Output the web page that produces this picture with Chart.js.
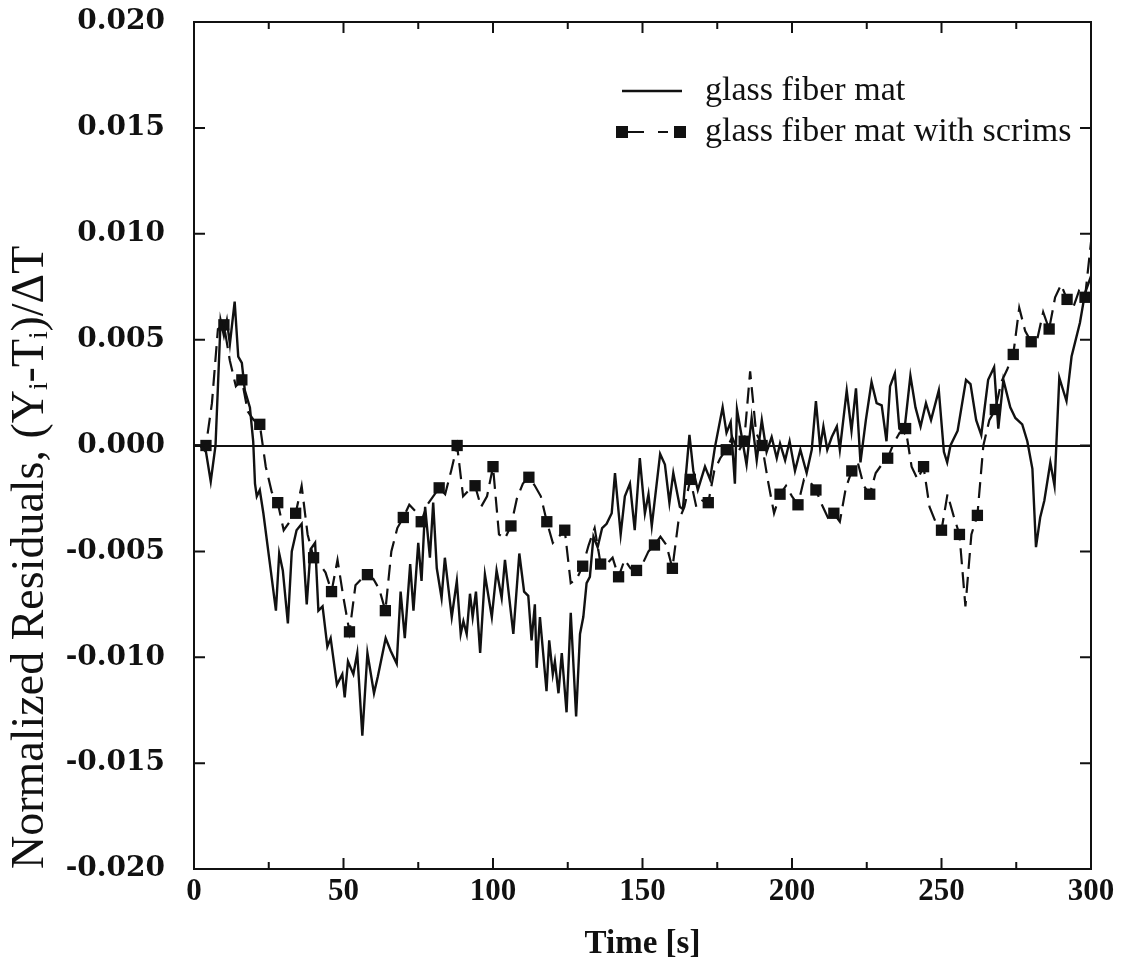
<!DOCTYPE html>
<html lang="en">
<head>
    <meta charset="UTF-8">
    <title>Normalized Residuals</title>
    <script src="https://cdn.jsdelivr.net/npm/chart.js"></script>
    <style>
        body { margin: 0; background: #fff; }
    </style>
</head>
<body>
    <canvas id="residualsChart" width="1127" height="966"></canvas>

    <script>
// glass fiber mat (solid line), time [s] and residual
const solidTime = [0, 2, 4, 5.6, 7.2, 8.9, 10, 11, 12, 13.6, 14.8, 16, 17, 18.7, 19.8, 20.4, 21, 22, 23.2, 25.4,
    27.4, 28.5, 29.7, 31.4, 32.7, 34.3, 36, 37.7, 39, 40.5, 41.6, 43, 44.6, 45.7, 47.8, 49.6, 50.4, 51.5, 53.3, 54.6,
    56.3, 58, 60.2, 61.5, 64.1, 65.8, 67.8, 69.1, 70.5, 72.3, 73.4, 75, 76.1, 77.3, 78.9, 80, 81.2, 82.8, 83.9, 86.2,
    87.9, 89.2, 90.1, 91.2, 92.3, 93.2, 94.3, 95.7, 97.3, 99.6, 101.2, 102.9, 104, 106.8, 108.8, 110.4, 111.8, 112.9, 114, 114.6,
    115.7, 117.9, 118.8, 120, 120.7, 121.9, 123, 124.6, 126, 127.8, 129.1, 130.2, 131.3, 132.4, 133.6, 135, 136.5, 138, 139.7, 140.8,
    142.7, 144.1, 145.8, 147.4, 149.1, 150.8, 152, 153.1, 155.9, 157.5, 159, 160.3, 162.5, 163.5, 165.7, 167, 168.5, 170.9, 172.6, 174.2,
    176.8, 178.1, 179.5, 180.9, 181.6, 182.6, 184.8, 186.5, 188.2, 189.9, 191.5, 193.2, 194.9, 196, 197.7, 199.2, 201, 202.8, 204.9, 206.6,
    208, 209.4, 210.5, 211.8, 213.3, 215, 216, 218.3, 219.9, 221.4, 222.9, 224.7, 226.6, 228.3, 230, 231.6, 232.8, 234.4, 235.9, 237.5,
    239.6, 241.3, 243, 244.8, 246.5, 249.1, 250.8, 251.9, 253, 255.4, 258.2, 259.7, 261.6, 263.3, 265.6, 267.6, 269, 270.7, 273, 274.7,
    277, 278.7, 280.4, 281.6, 283, 284.4, 286.4, 287.8, 289.4, 291.8, 293.5, 296.3, 298, 300];
const solidVal = [0.0000, 0.0000, -0.0003, -0.0017, 0.0000, 0.0059, 0.0052, 0.0059, 0.0048, 0.0068, 0.0042, 0.0039, 0.0026, 0.0018, 0.0002, -0.0018, -0.0024, -0.0021, -0.0032, -0.0056,
    -0.0078, -0.0051, -0.0059, -0.0084, -0.0050, -0.0040, -0.0037, -0.0075, -0.0049, -0.0046, -0.0078, -0.0076, -0.0095, -0.0091, -0.0113, -0.0108, -0.0119, -0.0102, -0.0108, -0.0098,
    -0.0137, -0.0098, -0.0117, -0.0109, -0.0091, -0.0097, -0.0103, -0.0069, -0.0091, -0.0056, -0.0078, -0.0046, -0.0064, -0.0029, -0.0053, -0.0027, -0.0058, -0.0072, -0.0053, -0.0081,
    -0.0064, -0.0089, -0.0083, -0.0089, -0.0070, -0.0081, -0.0069, -0.0098, -0.0061, -0.0081, -0.0059, -0.0072, -0.0054, -0.0089, -0.0051, -0.0069, -0.0071, -0.0092, -0.0075, -0.0105,
    -0.0081, -0.0116, -0.0092, -0.0108, -0.0102, -0.0117, -0.0098, -0.0126, -0.0079, -0.0128, -0.0089, -0.0081, -0.0065, -0.0062, -0.0043, -0.0048, -0.0039, -0.0037, -0.0032, -0.0013,
    -0.0042, -0.0024, -0.0018, -0.0040, -0.0006, -0.0032, -0.0023, -0.0038, -0.0004, -0.0009, -0.0027, -0.0013, -0.0029, -0.0030, 0.0005, -0.0012, -0.0021, -0.0010, -0.0016, -0.0001,
    0.0018, 0.0006, 0.0011, -0.0018, 0.0017, 0.0009, -0.0009, 0.0013, -0.0007, 0.0012, -0.0003, 0.0004, -0.0006, 0.0001, -0.0007, 0.0002, -0.0012, -0.0002, -0.0013, -0.0002,
    0.0021, -0.0001, 0.0009, -0.0002, 0.0004, 0.0009, -0.0002, 0.0026, 0.0007, 0.0027, -0.0008, 0.0012, 0.0030, 0.0020, 0.0019, 0.0002, 0.0028, 0.0034, 0.0008, 0.0006,
    0.0033, 0.0018, 0.0009, 0.0020, 0.0012, 0.0026, -0.0003, -0.0008, 0.0000, 0.0007, 0.0031, 0.0029, 0.0012, 0.0005, 0.0031, 0.0037, 0.0008, 0.0031, 0.0018, 0.0013,
    0.0010, 0.0002, -0.0011, -0.0048, -0.0034, -0.0026, -0.0008, -0.0019, 0.0032, 0.0021, 0.0042, 0.0058, 0.0072, 0.0080];

// glass fiber mat with scrims (dashed line), sampled every 2 s; a marker on every third sample
const scrimTime = [0, 2, 4, 6, 8, 10, 12, 14, 16, 18, 20, 22, 24, 26, 28, 30, 32, 34, 36, 38,
    40, 42, 44, 46, 48, 50, 52, 54, 56, 58, 60, 62, 64, 66, 68, 70, 72, 74, 76, 78,
    80, 82, 84, 86, 88, 90, 92, 94, 96, 98, 100, 102, 104, 106, 108, 110, 112, 114, 116, 118,
    120, 122, 124, 126, 128, 130, 132, 134, 136, 138, 140, 142, 144, 146, 148, 150, 152, 154, 156, 158,
    160, 162, 164, 166, 168, 170, 172, 174, 176, 178, 180, 182, 184, 186, 188, 190, 192, 194, 196, 198,
    200, 202, 204, 206, 208, 210, 212, 214, 216, 218, 220, 222, 224, 226, 228, 230, 232, 234, 236, 238,
    240, 242, 244, 246, 248, 250, 252, 254, 256, 258, 260, 262, 264, 266, 268, 270, 272, 274, 276, 278,
    280, 282, 284, 286, 288, 290, 292, 294, 296, 298, 300];
const scrimVal = [0.0000, 0.0000, 0.0000, 0.0020, 0.0055, 0.0057, 0.0040, 0.0028, 0.0031, 0.0016, 0.0012, 0.0010, -0.0010, -0.0022, -0.0027, -0.0040, -0.0036, -0.0032, -0.0019, -0.0042,
    -0.0053, -0.0056, -0.0060, -0.0069, -0.0054, -0.0072, -0.0088, -0.0066, -0.0063, -0.0061, -0.0063, -0.0068, -0.0078, -0.0050, -0.0039, -0.0034, -0.0028, -0.0031, -0.0036, -0.0028,
    -0.0024, -0.0020, -0.0023, -0.0012, 0.0000, -0.0024, -0.0021, -0.0019, -0.0029, -0.0024, -0.0010, -0.0042, -0.0044, -0.0038, -0.0025, -0.0018, -0.0015, -0.0019, -0.0024, -0.0036,
    -0.0046, -0.0043, -0.0040, -0.0065, -0.0063, -0.0057, -0.0047, -0.0039, -0.0056, -0.0056, -0.0053, -0.0062, -0.0054, -0.0058, -0.0059, -0.0056, -0.0050, -0.0047, -0.0043, -0.0047,
    -0.0058, -0.0036, -0.0029, -0.0016, -0.0029, -0.0026, -0.0027, -0.0012, -0.0006, -0.0002, 0.0004, -0.0003, 0.0002, 0.0035, 0.0006, 0.0000, -0.0017, -0.0032, -0.0023, -0.0019,
    -0.0024, -0.0028, -0.0016, -0.0017, -0.0021, -0.0028, -0.0034, -0.0032, -0.0036, -0.0020, -0.0012, -0.0008, -0.0019, -0.0023, -0.0013, -0.0009, -0.0006, 0.0001, 0.0006, 0.0008,
    -0.0010, -0.0016, -0.0010, -0.0029, -0.0036, -0.0040, -0.0023, -0.0033, -0.0042, -0.0076, -0.0042, -0.0033, 0.0000, 0.0012, 0.0017, 0.0030, 0.0036, 0.0043, 0.0065, 0.0054,
    0.0049, 0.0050, 0.0063, 0.0055, 0.0070, 0.0076, 0.0069, 0.0065, 0.0073, 0.0070, 0.0096];

const seriesNames = ['glass fiber mat', 'glass fiber mat with scrims'];
const xTickMarks = [0, 25, 50, 75, 100, 125, 150, 175, 200, 225, 250, 275, 300];

const ink = '#111';

// frame with inward ticks on all four sides, plus the legend inside the plot
const framePlugin = {
    id: 'frame',
    afterDatasetsDraw(chart) {
        const ctx = chart.ctx;
        const a = chart.chartArea;
        const xs = chart.scales.x, ys = chart.scales.y;
        ctx.save();
        ctx.strokeStyle = ink;
        ctx.lineWidth = 2;
        ctx.strokeRect(a.left, a.top, a.right - a.left, a.bottom - a.top);
        ctx.beginPath();
        xTickMarks.forEach(v => {
            const px = xs.getPixelForValue(v);
            const len = v % 50 === 0 ? 11 : 7;
            ctx.moveTo(px, a.bottom); ctx.lineTo(px, a.bottom - len);
            ctx.moveTo(px, a.top); ctx.lineTo(px, a.top + len);
        });
        ys.ticks.forEach(t => {
            const py = ys.getPixelForValue(t.value);
            ctx.moveTo(a.left, py); ctx.lineTo(a.left + 11, py);
            ctx.moveTo(a.right, py); ctx.lineTo(a.right - 11, py);
        });
        ctx.stroke();

        // legend
        const ds = chart.data.datasets;
        ctx.font = "34px 'Liberation Serif', serif";
        ctx.fillStyle = ink;
        ctx.textBaseline = 'middle';
        ctx.textAlign = 'left';

        ctx.lineWidth = ds[0].borderWidth;
        ctx.beginPath();
        ctx.moveTo(622, 91); ctx.lineTo(682, 91);
        ctx.stroke();
        ctx.fillText(ds[0].label, 705, 91);

        ctx.lineWidth = ds[1].borderWidth;
        ctx.setLineDash([22, 14, 10, 20]);
        ctx.beginPath();
        ctx.moveTo(622, 132); ctx.lineTo(680, 132);
        ctx.stroke();
        ctx.setLineDash([]);
        [622, 680].forEach(px => ctx.fillRect(px - 6, 126, 12, 12));
        ctx.fillText(ds[1].label, 705, 132);
        ctx.restore();
    }
};

const ctx = document.getElementById('residualsChart').getContext('2d');
new Chart(ctx, {
    type: 'line',
    data: {
        datasets: [
            {
                label: seriesNames[0],
                data: solidTime.map((t, i) => ({ x: t, y: solidVal[i] })),
                borderColor: ink,
                borderWidth: 2.4,
                pointRadius: 0,
                tension: 0,
                fill: false
            },
            {
                label: seriesNames[1],
                data: scrimTime.map((t, i) => ({ x: t, y: scrimVal[i] })),
                borderColor: ink,
                borderWidth: 2.2,
                borderDash: [16, 8],
                pointStyle: 'rect',
                pointRadius: c => (c.dataIndex % 3 === 2 ? 8 : 0),
                pointBackgroundColor: ink,
                pointBorderColor: ink,
                pointBorderWidth: 0,
                tension: 0,
                fill: false
            }
        ]
    },
    options: {
        responsive: false,
        animation: false,
        devicePixelRatio: 1,
        layout: { padding: { top: 22, right: 36, left: 0, bottom: 0 } },
        plugins: {
            legend: { display: false },
            tooltip: { enabled: false }
        },
        scales: {
            x: {
                type: 'linear',
                min: 0,
                max: 300,
                afterFit: s => { s.height = 97; },
                border: { display: false },
                grid: { display: false, drawTicks: false },
                ticks: {
                    stepSize: 50,
                    padding: 4,
                    color: ink,
                    font: { family: "'Liberation Serif', serif", size: 31, weight: 'bold' }
                },
                title: {
                    display: true,
                    text: 'Time [s]',
                    color: ink,
                    padding: { top: 0, bottom: 2 },
                    font: { family: "'Liberation Serif', serif", size: 33, weight: 'bold' }
                }
            },
            y: {
                min: -0.02,
                max: 0.02,
                afterFit: s => { s.width = 194; s.paddingTop = 0; s.paddingBottom = 0; },
                border: { display: false },
                grid: {
                    drawTicks: false,
                    lineWidth: 2,
                    color: c => (c.tick && Math.abs(c.tick.value) < 1e-9 ? ink : 'rgba(0,0,0,0)')
                },
                ticks: {
                    stepSize: 0.005,
                    padding: 29,
                    color: ink,
                    font: { family: "'DejaVu Serif', serif", size: 28, weight: 'bold' },
                    callback: v => (Math.abs(v) < 1e-9 ? '0.000' : v.toFixed(3))
                },
                title: {
                    display: true,
                    text: 'Normalized Residuals, (Yᵢ-Tᵢ)/ΔT',
                    align: 'start',
                    color: ink,
                    padding: { top: 3, bottom: 0 },
                    font: { family: "'Liberation Serif', serif", size: 46 }
                }
            }
        }
    },
    plugins: [framePlugin]
});
    </script>
</body>
</html>
